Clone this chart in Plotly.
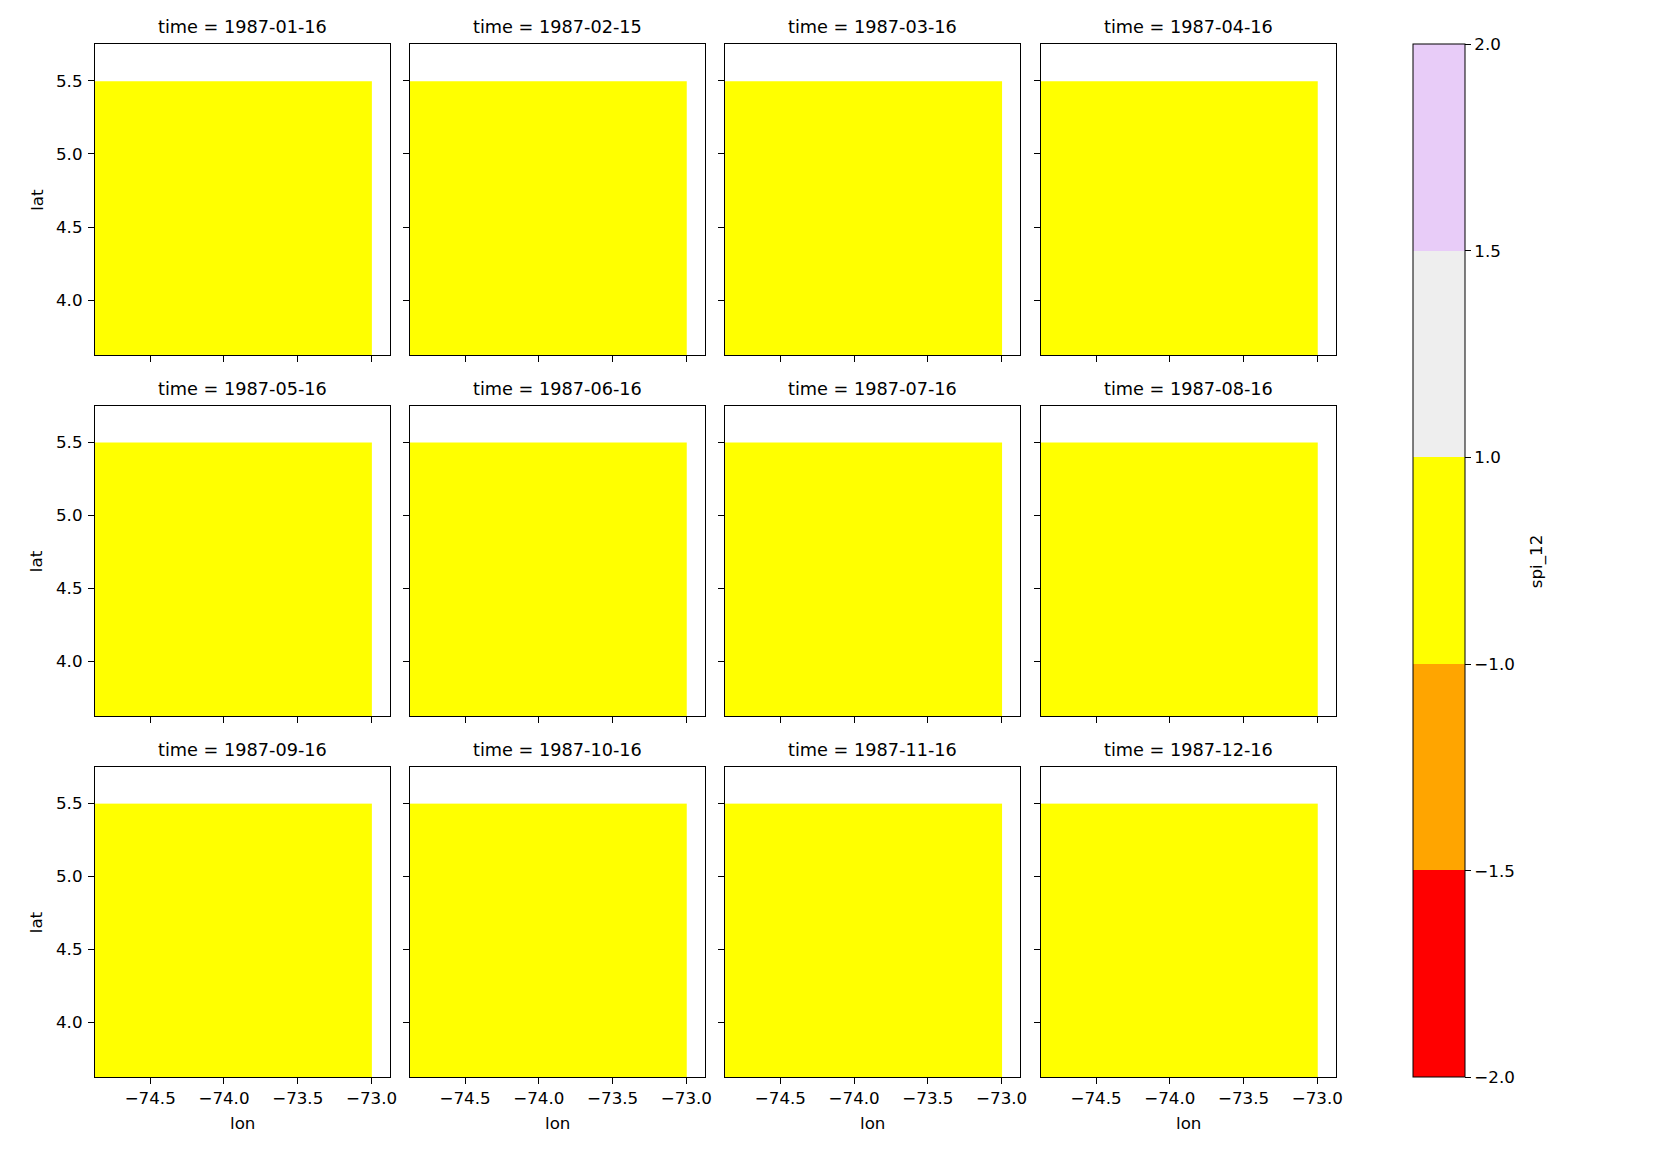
import numpy as np
import plotly.graph_objects as go

# ---------------- data ----------------
times = ["1987-01-16", "1987-02-15", "1987-03-16", "1987-04-16",
         "1987-05-16", "1987-06-16", "1987-07-16", "1987-08-16",
         "1987-09-16", "1987-10-16", "1987-11-16", "1987-12-16"]
# one SPI-12 value per month for the filled block (all in the -1..1 class)
spi_values = [0.4, 0.4, 0.4, 0.4, 0.4, 0.4, 0.4, 0.4, 0.4, 0.4, 0.4, 0.4]
# cell edges (pcolormesh style); the outer row / column are empty (NaN)
lon_edges = [-74.875, -73.0, -72.875]
lat_edges = [3.625, 5.5, 5.75]

bounds = [-2.0, -1.5, -1.0, 1.0, 1.5, 2.0]
bound_labels = ["\u22122.0", "\u22121.5", "\u22121.0", "1.0", "1.5", "2.0"]
class_colors = ["#ff0000", "#ffa500", "#ffff00", "#eeeeee", "#e8ccf8"]

lon_ticks = [-74.5, -74.0, -73.5, -73.0]
lon_ticklabels = ["\u221274.5", "\u221274.0", "\u221273.5", "\u221273.0"]
lat_ticks = [4.0, 4.5, 5.0, 5.5]
lat_ticklabels = ["4.0", "4.5", "5.0", "5.5"]

# ---------------- layout geometry (pixels, in the 1664x1152 page) ----------------
OFF = 8.0                 # page body margin
KX = 1.0 / 0.9955         # horizontal correction measured on the rendered page
W = 1664 - 2 * int(OFF)
H = 1152 - 2 * int(OFF)
col_left = [94.8, 409.6, 724.8, 1040.4]
panel_w = 295.0
row_top = [44.2, 405.5, 766.6]
panel_h = 310.8

FONT = "DejaVu Sans"
TICK_SIZE = 16.7
TITLE_SIZE = 17.7


def px_x(p):
    return (p * KX - OFF) / W


def px_y(p):
    return 1 - (p - OFF) / H


# discrete colorscale on class-index space 0..5
n = len(class_colors)
colorscale = []
for i, c in enumerate(class_colors):
    colorscale.append([i / n, c])
    colorscale.append([(i + 1) / n, c])


def to_class(v):
    k = int(np.clip(np.digitize(v, bounds) - 1, 0, n - 1))
    return k + 0.5


fig = go.Figure()
annotations = []
layout_axes = {}

for idx, (t, v) in enumerate(zip(times, spi_values)):
    r, c = divmod(idx, 4)
    ax = idx + 1
    xa = "x" if ax == 1 else f"x{ax}"
    ya = "y" if ax == 1 else f"y{ax}"
    z = [[to_class(v), None], [None, None]]
    fig.add_trace(go.Heatmap(
        x=lon_edges, y=lat_edges, z=z, coloraxis="coloraxis",
        xaxis=xa, yaxis=ya, hovertemplate=f"time={t}<br>spi_12={v}<extra></extra>",
    ))
    x0 = px_x(col_left[c])
    x1 = px_x(col_left[c] + panel_w)
    y1 = px_y(row_top[r])
    y0 = px_y(row_top[r] + panel_h)
    xname = "xaxis" if ax == 1 else f"xaxis{ax}"
    yname = "yaxis" if ax == 1 else f"yaxis{ax}"
    layout_axes[xname] = dict(
        domain=[x0, x1], anchor=ya, range=[min(lon_edges), max(lon_edges)],
        showgrid=False, zeroline=False, showline=True, mirror=True,
        linecolor="black", linewidth=1, ticks="outside", ticklen=6,
        tickwidth=1, tickcolor="black", tickvals=lon_ticks,
        ticktext=lon_ticklabels, showticklabels=(r == 2),
        tickfont=dict(family=FONT, size=TICK_SIZE, color="black"),
    )
    layout_axes[yname] = dict(
        domain=[y0, y1], anchor=xa, range=[min(lat_edges), max(lat_edges)],
        showgrid=False, zeroline=False, showline=True, mirror=True,
        linecolor="black", linewidth=1, ticks="outside", ticklen=6,
        tickwidth=1, tickcolor="black", tickvals=lat_ticks,
        ticktext=lat_ticklabels, showticklabels=(c == 0),
        ticklabelstandoff=2,
        tickfont=dict(family=FONT, size=TICK_SIZE, color="black"),
    )
    annotations.append(dict(
        text=f"time = {t}", xref="paper", yref="paper",
        x=(x0 + x1) / 2, y=y1, xanchor="center", yanchor="bottom",
        yshift=5, showarrow=False,
        font=dict(family=FONT, size=TITLE_SIZE, color="black"),
    ))
    if c == 0:
        annotations.append(dict(
            text="lat", xref="paper", yref="paper",
            x=px_x(36.2), y=(y0 + y1) / 2, xanchor="center", yanchor="middle",
            textangle=-90, showarrow=False,
            font=dict(family=FONT, size=TICK_SIZE, color="black"),
        ))
    if r == 2:
        annotations.append(dict(
            text="lon", xref="paper", yref="paper",
            x=(x0 + x1) / 2, y=px_y(1123.0), xanchor="center", yanchor="middle",
            showarrow=False,
            font=dict(family=FONT, size=TICK_SIZE, color="black"),
        ))

cb_top = 44.3
cb_bot = 1077.3
annotations.append(dict(
    text="spi_12", xref="paper", yref="paper",
    x=px_x(1536.0), y=px_y((cb_top + cb_bot) / 2), xanchor="center",
    yanchor="middle", textangle=-90, showarrow=False,
    font=dict(family=FONT, size=TICK_SIZE, color="black"),
))

fig.update_layout(
    width=W, height=H,
    margin=dict(l=0, r=0, t=0, b=0),
    paper_bgcolor="white", plot_bgcolor="white",
    font=dict(family=FONT, size=TICK_SIZE, color="black"),
    showlegend=False,
    annotations=annotations,
    coloraxis=dict(
        colorscale=colorscale, cmin=0, cmax=n,
        colorbar=dict(
            x=px_x(1412.7), xanchor="left", xpad=0,
            y=px_y(cb_bot), yanchor="bottom", ypad=0,
            len=(cb_bot - cb_top) / H, lenmode="fraction",
            thickness=52, thicknessmode="pixels",
            outlinecolor="black", outlinewidth=1,
            tickmode="array", tickvals=list(range(n + 1)), ticktext=bound_labels,
            ticks="outside", ticklen=6, tickwidth=1, tickcolor="black",
            tickfont=dict(family=FONT, size=TICK_SIZE, color="black"),
        ),
    ),
    **layout_axes,
)

fig.write_html("out.html")
